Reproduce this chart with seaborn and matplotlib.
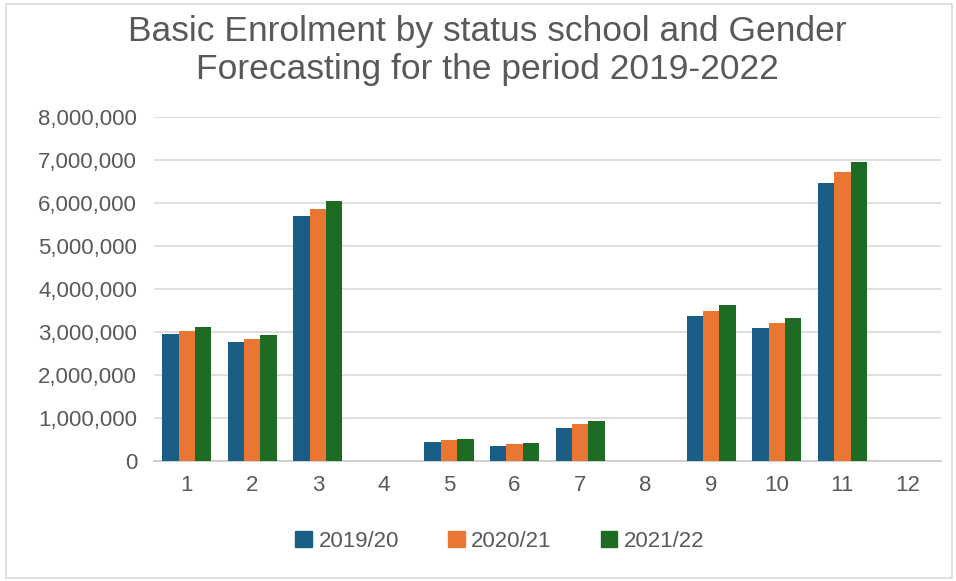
import numpy as np
import pandas as pd
import matplotlib.pyplot as plt
import seaborn as sns
from matplotlib.patches import Rectangle
from matplotlib.ticker import FuncFormatter

# Data
categories = ["1", "2", "3", "4", "5", "6", "7", "8", "9", "10", "11", "12"]
years = ["2019/20", "2020/21", "2021/22"]
y2019 = [2950000, 2760000, 5700000, np.nan, 440000, 340000, 770000, np.nan, 3380000, 3090000, 6480000, np.nan]
y2020 = [3020000, 2840000, 5870000, np.nan, 480000, 380000, 850000, np.nan, 3500000, 3220000, 6720000, np.nan]
y2021 = [3120000, 2930000, 6040000, np.nan, 510000, 410000, 920000, np.nan, 3630000, 3320000, 6950000, np.nan]
colors = ["#1A5E86", "#E97633", "#1E6B24"]

# Long form table for seaborn
rows = []
for year, vals in zip(years, [y2019, y2020, y2021]):
    for cat, v in zip(categories, vals):
        rows.append({"cat": cat, "year": year, "value": v})
df = pd.DataFrame(rows)

sns.set_theme(style="white")
plt.rcParams['font.family'] = ['Liberation Sans', 'DejaVu Sans']
text_col = "#595959"

fig = plt.figure(figsize=(9.56, 5.81), dpi=100)
ax = fig.add_axes([0.161, 0.207, 0.823, 0.591])

sns.barplot(data=df, x="cat", y="value", hue="year", order=categories,
            hue_order=years, palette=colors, width=0.75, errorbar=None,
            saturation=1, ax=ax, legend=False, zorder=3, linewidth=0)

# Axis styling
ax.set_ylim(0, 8000000)
ax.set_xlim(-0.5, len(categories) - 0.5)
ax.set_yticks(np.arange(0, 8000001, 1000000))
ax.yaxis.set_major_formatter(FuncFormatter(lambda v, p: f"{int(v):,}"))
ax.grid(axis="y", color="#dcdcdc", linewidth=1.3, zorder=0)
for s in ["top", "right", "left"]:
    ax.spines[s].set_visible(False)
ax.spines["bottom"].set_color("#cccccc")
ax.spines["bottom"].set_linewidth(1.3)
ax.tick_params(axis="both", length=0, labelsize=16, colors=text_col)
ax.tick_params(axis="y", pad=12)
ax.tick_params(axis="x", pad=10)
ax.set_xlabel("")
ax.set_ylabel("")

# Title
fig.text(0.51, 0.913, "Basic Enrolment by status school and Gender\nForecasting for the period 2019-2022",
         ha="center", va="center", fontsize=25.5, color=text_col, linespacing=1.2)

# Legend
handles = [Rectangle((0, 0), 1, 1, color=c) for c in colors]
fig.legend(handles, years, loc="center", bbox_to_anchor=(0.523, 0.068), ncol=3,
           frameon=False, fontsize=16, labelcolor=text_col, handlelength=0.75,
           handleheight=0.75, handletextpad=0.3, columnspacing=2.2)

# Outer border
fig.patches.append(Rectangle((0.006, 0.005), 0.99, 0.988, transform=fig.transFigure,
                             fill=False, edgecolor="#d9d9d9", linewidth=1.2))

fig.savefig("out.png", dpi=100, facecolor="white")
